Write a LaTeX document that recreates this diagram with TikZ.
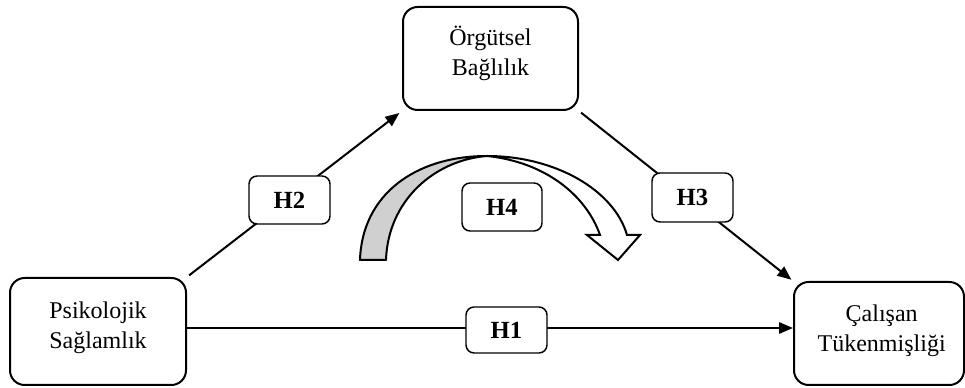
\documentclass[tikz,border=0pt]{standalone}
\usepackage{fontspec}
\setmainfont{Liberation Serif}
\usetikzlibrary{arrows.meta}
\definecolor{bandgray}{RGB}{208,208,208}
\begin{document}
\begin{tikzpicture}[x=0.75pt,y=-0.75pt,
  bigbox/.style={draw=black,line width=1.5pt,rounded corners=11pt,fill=white,inner sep=0pt},
  txt/.style={align=center,inner sep=0pt,font=\fontsize{18}{22.5}\selectfont},
  hbox/.style={draw=black,line width=1.1pt,rounded corners=6pt,fill=white,
    inner sep=0pt,minimum width=60.75pt,minimum height=36pt,
    font=\fontsize{18.5}{20}\selectfont\bfseries},
  conn/.style={line width=1.5pt,-{Triangle[length=10.5pt,width=8.5pt]}}]
\useasboundingbox (0,0) rectangle (965,388);
% main boxes
\node[bigbox,minimum width=132pt,minimum height=80.25pt] (P) at (98,331.5) {};
\node[bigbox,minimum width=131.25pt,minimum height=77.25pt] (O) at (490.5,58.5) {};
\node[bigbox,minimum width=127.5pt,minimum height=77.25pt] (C) at (879,333.5) {};
\node[txt] (Pt) at ([yshift=3pt]P.center) {Psikolojik\\Sağlamlık};
\node[txt] (Ot) at ([yshift=4pt]O.center) {Örgütsel\\Bağlılık};
\node[txt] (Ct) at ([yshift=2pt,xshift=2pt]C.center) {Çalışan\\Tükenmişliği};
% connectors
\coordinate (y1) at (0,328);
\draw[conn,shorten <=2pt,shorten >=2.5pt] (P.north east) -- (O.south west);
\draw[conn,shorten <=2pt,shorten >=1.5pt] (O.south east) -- (C.north west);
\draw[conn] (P.east |- y1) -- (C.west |- y1);
% curved arrow
\draw[line width=1.5pt,fill=bandgray,line join=round]
  (360,260) .. controls (362,195) and (415,156) .. (487,156)
  .. controls (435,160) and (388,200) .. (386,260) -- cycle;
\draw[line width=1.5pt,fill=white,line join=miter]
  (487,156) .. controls (555,156) and (614,190) .. (627,235)
  -- (640,235) -- (618,260) -- (587,235) -- (600,235)
  .. controls (586,195) and (545,162) .. (487,156) -- cycle;
% hypothesis labels
\node[hbox] (h2) at (289.5,200) {H2};
\node[hbox,minimum height=36.75pt] (h3) at (692.5,197.5) {H3};
\node[hbox,minimum height=34.5pt] (h1) at (506.5,330) {H1};
\node[hbox,minimum width=60pt] (h4) at (502,207) {H4};
\end{tikzpicture}
\end{document}
